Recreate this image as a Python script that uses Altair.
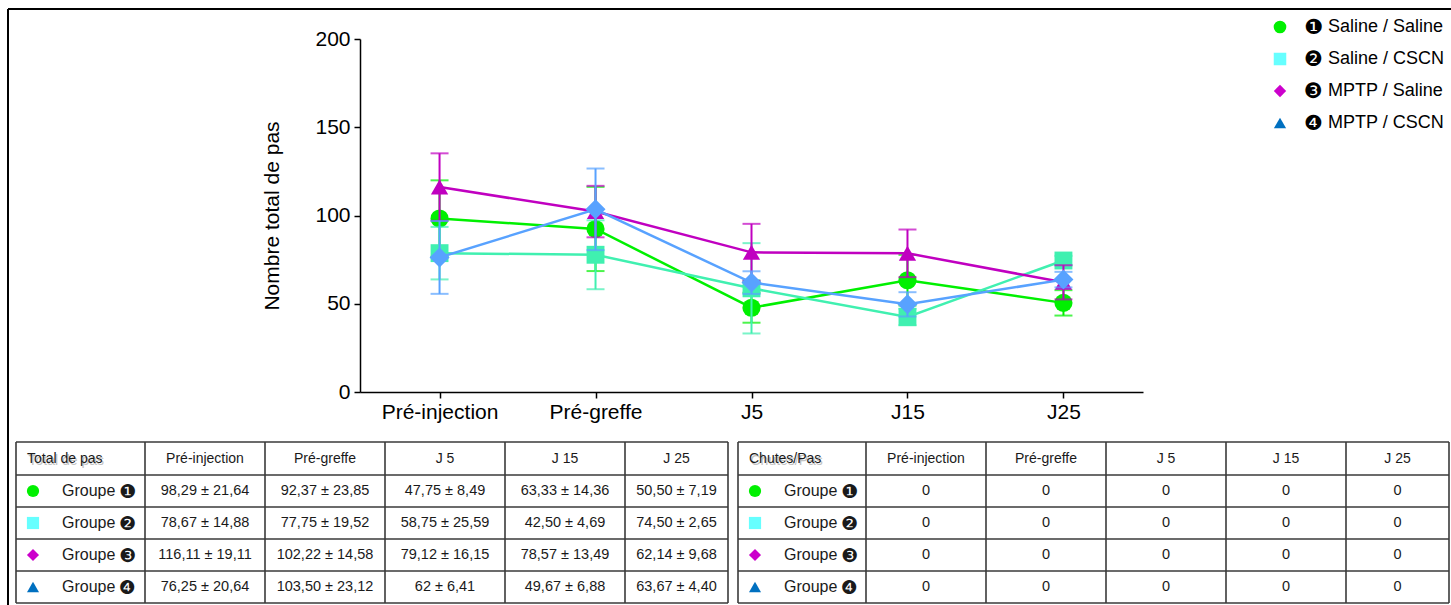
import altair as alt
import pandas as pd

# ---------------------------------------------------------------- data
timepoints = ["Pré-injection", "Pré-greffe", "J5", "J15", "J25"]
table_headers = ["Pré-injection", "Pré-greffe", "J 5", "J 15", "J 25"]
group_marks = ["❶", "❷", "❸", "❹"]
treatments = ["Saline / Saline", "Saline / CSCN", "MPTP / Saline", "MPTP / CSCN"]

# total number of steps: mean and SD per group and time point
mean_g1 = [98.29, 92.37, 47.75, 63.33, 50.50]
sd_g1 = [21.64, 23.85, 8.49, 14.36, 7.19]
mean_g2 = [78.67, 77.75, 58.75, 42.50, 74.50]
sd_g2 = [14.88, 19.52, 25.59, 4.69, 2.65]
mean_g3 = [116.11, 102.22, 79.12, 78.57, 62.14]
sd_g3 = [19.11, 14.58, 16.15, 13.49, 9.68]
mean_g4 = [76.25, 103.50, 62.00, 49.67, 63.67]
sd_g4 = [20.64, 23.12, 6.41, 6.88, 4.40]

# falls per step
falls_g1 = [0, 0, 0, 0, 0]
falls_g2 = [0, 0, 0, 0, 0]
falls_g3 = [0, 0, 0, 0, 0]
falls_g4 = [0, 0, 0, 0, 0]

means = [mean_g1, mean_g2, mean_g3, mean_g4]
sds = [sd_g1, sd_g2, sd_g3, sd_g4]
falls = [falls_g1, falls_g2, falls_g3, falls_g4]

# ---------------------------------------------------------------- styles
FONT = "Liberation Sans, Arial, DejaVu Sans"
plot_colors = ["#00F000", "#40F0B0", "#C000C0", "#58A2FF"]
plot_shapes = ["circle", "square", "triangle-up", "diamond"]
plot_sizes = [330, 320, 300, 400]

key_colors = ["#00F000", "#66FFFF", "#CC00CC", "#0070C0"]
key_shapes = ["circle", "square", "diamond", "triangle-up"]
key_sizes = [160, 150, 300, 320]
table_sizes = [150, 144, 240, 250]

W, H = 1451, 605
PLOT_L, PLOT_R, PLOT_T, PLOT_B = 360, 1143, 39, 392


def fmt(v):
    if float(v).is_integer():
        return str(int(v))
    return f"{v:.2f}".replace(".", ",")


# ---------------------------------------------------------------- main plot
x_enc = alt.X(
    "time:N",
    sort=timepoints,
    scale=alt.Scale(type="point", domain=timepoints, range=[PLOT_L, PLOT_R], padding=0.51),
    axis=alt.Axis(
        orient="bottom", offset=PLOT_B - H, title=None, labelAngle=0,
        labelFontSize=21, labelFont=FONT, labelColor="black", labelPadding=3,
        tickSize=6, tickWidth=1.5, tickColor="black",
        domainColor="black", domainWidth=1.5, grid=False,
    ),
)


def y_enc(field):
    return alt.Y(
        field,
        title="Nombre total de pas",
        scale=alt.Scale(domain=[0, 200], range=[PLOT_B, PLOT_T], nice=False, zero=False),
        axis=alt.Axis(
            orient="left", offset=-PLOT_L, values=[0, 50, 100, 150, 200],
            title="Nombre total de pas", titleFontSize=21, titleFont=FONT,
            titleFontWeight="normal", titleColor="black", titlePadding=32,
            labelFontSize=21, labelFont=FONT, labelColor="black", labelPadding=4,
            tickSize=6, tickWidth=1.5, tickColor="black",
            domainColor="black", domainWidth=1.5, grid=False,
        ),
    )


group_layers = []
for i in range(4):
    df = pd.DataFrame({
        "time": timepoints,
        "mean": means[i],
        "lo": [m - s for m, s in zip(means[i], sds[i])],
        "hi": [m + s for m, s in zip(means[i], sds[i])],
    })
    base = alt.Chart(df)
    col = plot_colors[i]
    bars = base.mark_rule(color=col, strokeWidth=2).encode(
        x=x_enc, y=y_enc("lo:Q"), y2="hi:Q"
    )
    caps = base.transform_fold(["lo", "hi"], as_=["end", "val"]).mark_tick(
        color=col, size=18, thickness=2
    ).encode(x=x_enc, y=y_enc("val:Q"))
    line = base.mark_line(color=col, strokeWidth=2.5).encode(
        x=x_enc, y=y_enc("mean:Q")
    )
    pts = base.mark_point(
        color=col, fill=col, filled=True, opacity=1,
        shape=plot_shapes[i], size=plot_sizes[i],
    ).encode(x=x_enc, y=y_enc("mean:Q"))
    group_layers += [bars, caps, line, pts]

main = alt.layer(*group_layers)

# ---------------------------------------------------------------- key
key_df = pd.DataFrame({"num": group_marks, "name": treatments})
key_y = alt.Y("num:N", sort=group_marks,
              scale=alt.Scale(type="point", domain=group_marks, range=[27, 123], padding=0),
              axis=None)
key_pts = alt.Chart(key_df).mark_point(filled=True, opacity=1).encode(
    x=alt.value(1280), y=key_y,
    color=alt.Color("num:N", scale=alt.Scale(domain=group_marks, range=key_colors), legend=None),
    shape=alt.Shape("num:N", scale=alt.Scale(domain=group_marks, range=key_shapes), legend=None),
    size=alt.Size("num:N", scale=alt.Scale(domain=group_marks, range=key_sizes), legend=None),
)
key_num = alt.Chart(key_df).mark_text(
    align="left", baseline="middle", fontSize=21, font=FONT, color="black", dy=1
).encode(x=alt.value(1304), y=key_y, text="num:N")
key_txt = alt.Chart(key_df).mark_text(
    align="left", baseline="middle", fontSize=18, font=FONT, color="black"
).encode(x=alt.value(1328), y=key_y, text="name:N")
key = alt.layer(key_pts, key_num, key_txt)


# ---------------------------------------------------------------- tables
def build_table(left, col_widths, corner, cell_text):
    top, head_h, row_h = 442, 33, 32
    col_edges = [left]
    for w in col_widths:
        col_edges.append(col_edges[-1] + w)
    row_edges = [top, top + head_h] + [top + head_h + row_h * (k + 1) for k in range(4)]
    right = col_edges[-1]
    row_mid = [(row_edges[k] + row_edges[k + 1]) / 2 for k in range(5)]
    col_mid = [(col_edges[k] + col_edges[k + 1]) / 2 for k in range(len(col_widths))]

    cells = []
    for j, h in enumerate(table_headers):
        cells.append(dict(x=col_mid[j + 1], y=row_mid[0], t=h, a="center", s=14))
    for g in range(4):
        cells.append(dict(x=left + 46, y=row_mid[g + 1], t="Groupe", a="left", s=16))
        cells.append(dict(x=left + 103, y=row_mid[g + 1] + 1, t=group_marks[g], a="left", s=19))
        for j in range(5):
            cells.append(dict(x=col_mid[j + 1], y=row_mid[g + 1], t=cell_text[g][j], a="center", s=14.5))
    cdf = pd.DataFrame(cells)

    lines = []
    for y in row_edges:
        lines.append(dict(x1=left, x2=right, y1=y, y2=y))
    for x in col_edges:
        lines.append(dict(x1=x, x2=x, y1=row_edges[0], y2=row_edges[-1]))
    ldf = pd.DataFrame(lines)

    grid = alt.Chart(ldf).mark_rule(color="#3a3a3a", strokeWidth=1.6).encode(
        x=alt.X("x1:Q", scale=None, axis=None), x2="x2:Q",
        y=alt.Y("y1:Q", scale=None, axis=None), y2="y2:Q",
    )
    layers = [grid]

    # corner caption with its soft grey shadow
    corner_df = pd.DataFrame({"t": [corner], "x": [left + 11], "y": [row_mid[0]]})
    for dx, dy, c, op in [(1.5, 2, "#9a9a9a", 0.6), (0, 0, "#1a1a1a", 1)]:
        layers.append(
            alt.Chart(corner_df).mark_text(
                align="left", baseline="middle", fontSize=14, font=FONT,
                color=c, opacity=op, dx=dx, dy=dy,
            ).encode(
                x=alt.X("x:Q", scale=None, axis=None),
                y=alt.Y("y:Q", scale=None, axis=None),
                text="t:N",
            )
        )

    for a in ["left", "center"]:
        for s in sorted(cdf["s"].unique()):
            sub = cdf[(cdf["a"] == a) & (cdf["s"] == s)]
            if len(sub) == 0:
                continue
            layers.append(
                alt.Chart(sub).mark_text(
                    align=a, baseline="middle", fontSize=float(s), font=FONT, color="#1a1a1a"
                ).encode(
                    x=alt.X("x:Q", scale=None, axis=None),
                    y=alt.Y("y:Q", scale=None, axis=None),
                    text="t:N",
                )
            )
    mdf = pd.DataFrame({"grp": group_marks, "x": [left + 17] * 4, "y": row_mid[1:]})
    layers.append(
        alt.Chart(mdf).mark_point(filled=True, opacity=1).encode(
            x=alt.X("x:Q", scale=None, axis=None),
            y=alt.Y("y:Q", scale=None, axis=None),
            color=alt.Color("grp:N", scale=alt.Scale(domain=group_marks, range=key_colors), legend=None),
            shape=alt.Shape("grp:N", scale=alt.Scale(domain=group_marks, range=key_shapes), legend=None),
            size=alt.Size("grp:N", scale=alt.Scale(domain=group_marks, range=table_sizes), legend=None),
        )
    )
    return alt.layer(*layers)


steps_text = [[f"{fmt(m)} ± {fmt(s)}" for m, s in zip(means[g], sds[g])] for g in range(4)]
falls_text = [[fmt(v) for v in falls[g]] for g in range(4)]

table_steps = build_table(16, [129, 120, 120, 120, 120, 103], "Total de pas", steps_text)
table_falls = build_table(738, [128, 120, 120, 120, 120, 103], "Chutes/Pas", falls_text)

# ---------------------------------------------------------------- frame
frame_left = alt.Chart(pd.DataFrame({"k": [0]})).mark_rule(color="black", strokeWidth=2).encode(
    x=alt.value(8), y=alt.value(9), y2=alt.value(H)
)
frame_top = alt.Chart(pd.DataFrame({"k": [0]})).mark_rule(color="black", strokeWidth=2).encode(
    x=alt.value(8), x2=alt.value(W), y=alt.value(9)
)

chart = (
    alt.layer(frame_left, frame_top, main, key, table_steps, table_falls)
    .resolve_scale(x="independent", y="independent", color="independent",
                   shape="independent", size="independent")
    .properties(width=W, height=H, autosize=alt.AutoSizeParams(type="none"), padding=0,
                background="white")
    .configure_view(stroke=None)
)

chart.save("out.html", embed_options={"renderer": "svg", "actions": False})
